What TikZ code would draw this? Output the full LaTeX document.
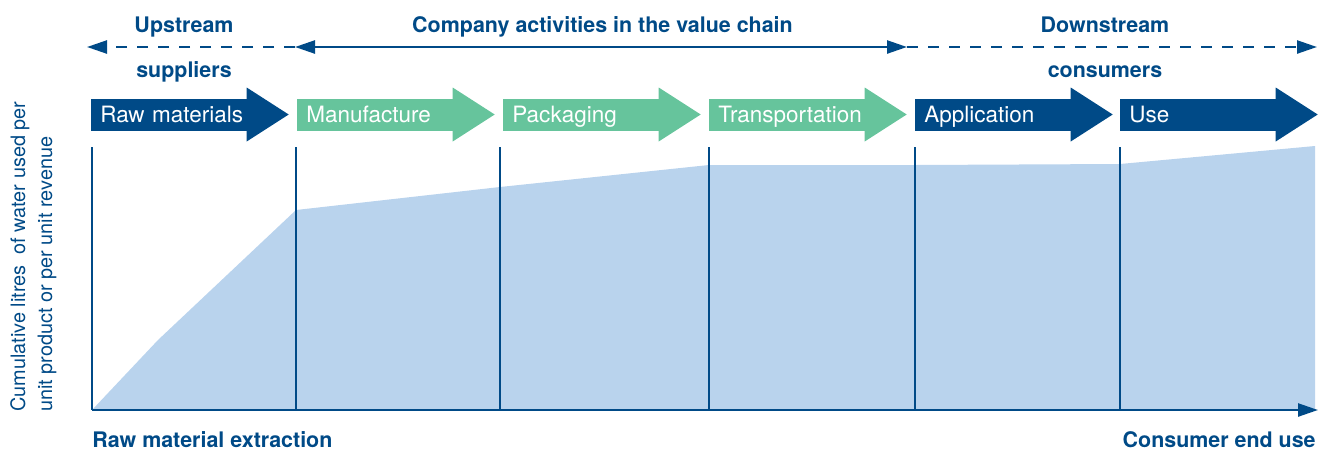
\documentclass[tikz,border=0pt]{standalone}
\usepackage{fontspec}
\setmainfont{TeX Gyre Heros}
\usetikzlibrary{arrows.meta}
\definecolor{darkblue}{RGB}{0,74,135}
\definecolor{stagegreen}{RGB}{102,196,156}
\definecolor{areablue}{RGB}{185,211,237}

\begin{document}
\begin{tikzpicture}[x=0.02cm, y=-0.02cm,
    head/.style={font=\bfseries\fontsize{12.2}{15}\selectfont, text=darkblue,
        inner sep=0pt, text height=8.8pt, text depth=0pt},
    stage/.style={rectangle, anchor=west, inner ysep=0pt, inner xsep=9*0.02cm,
        text width=138*0.02cm, minimum height=32*0.02cm, align=left,
        text height=9.2pt, text depth=0pt,
        text=white, font=\fontsize{12.8}{15}\selectfont},
    onehead/.style={-{Triangle[length=20*0.02cm, width=13*0.02cm]}},
    twoheads/.style={{Triangle[length=20*0.02cm, width=13*0.02cm]}-{Triangle[length=20*0.02cm, width=13*0.02cm]}},
    span/.style={darkblue, line width=1.4pt}]
    \useasboundingbox (0,0) rectangle (1330,451);
    % Cumulative water area
    \fill[areablue] (92,410) -- (158,340) -- (296,210) -- (500,187) -- (709,165)
        -- (915,165) -- (1120,164) -- (1315,146) -- (1315,410) -- cycle;
    % Dividers
    \foreach \x in {92,296,500,709,915,1120} {
        \draw[darkblue, line width=0.8pt] (\x,147) -- (\x,410);
    }
    % Axis
    \coordinate (origin) at (92,410);
    \coordinate (axisend) at (1318,410);
    \draw[span, onehead] (origin) -- (axisend);
    % Stages
    \foreach \x/\c/\t [count=\i] in {91/darkblue/Raw materials, 297/stagegreen/Manufacture,
        503/stagegreen/Packaging, 709/stagegreen/Transportation,
        915/darkblue/Application, 1120/darkblue/Use} {
        \node[stage, fill=\c] (s\i) at (\x,114.5) {\mbox{\t}};
        \fill[\c] ([shift={(-1,-27)}]s\i.east) -- ([shift={(41,0)}]s\i.east)
            -- ([shift={(-1,27)}]s\i.east) -- cycle;
    }
    % Value chain spans
    \coordinate (up) at (87,47);
    \coordinate (cl) at (295,47);
    \coordinate (cr) at (907,47);
    \coordinate (down) at (1317,47);
    \draw[span, onehead, dash pattern=on 11*0.02cm off 10*0.02cm] (cl) -- (up);
    \draw[span, twoheads] (cl) -- (cr);
    \draw[span, onehead, dash pattern=on 11*0.02cm off 10*0.02cm] (cr) -- (down);
    % Labels
    \node[head] (upstream) at (184,24.5) {Upstream};
    \node[head] (suppliers) at (184,69.5) {suppliers};
    \node[head] (company) at (602.5,25) {Company activities in the value chain};
    \node[head] (downstream) at (1105,24.5) {Downstream};
    \node[head] (consumers) at (1105,69.5) {consumers};
    \node[head, anchor=west] (extraction) at (92,440) {Raw material extraction};
    \node[head, anchor=east] (enduse) at (1316,440) {Consumer end use};
    \node[rotate=90, anchor=north west, text=darkblue, align=left, inner sep=0pt,
        font=\fontsize{11.3}{15.3}\selectfont] (ylabel) at (10,412)
        {Cumulative litres\ \ of water used per\\unit product or per unit revenue};
\end{tikzpicture}
\end{document}
